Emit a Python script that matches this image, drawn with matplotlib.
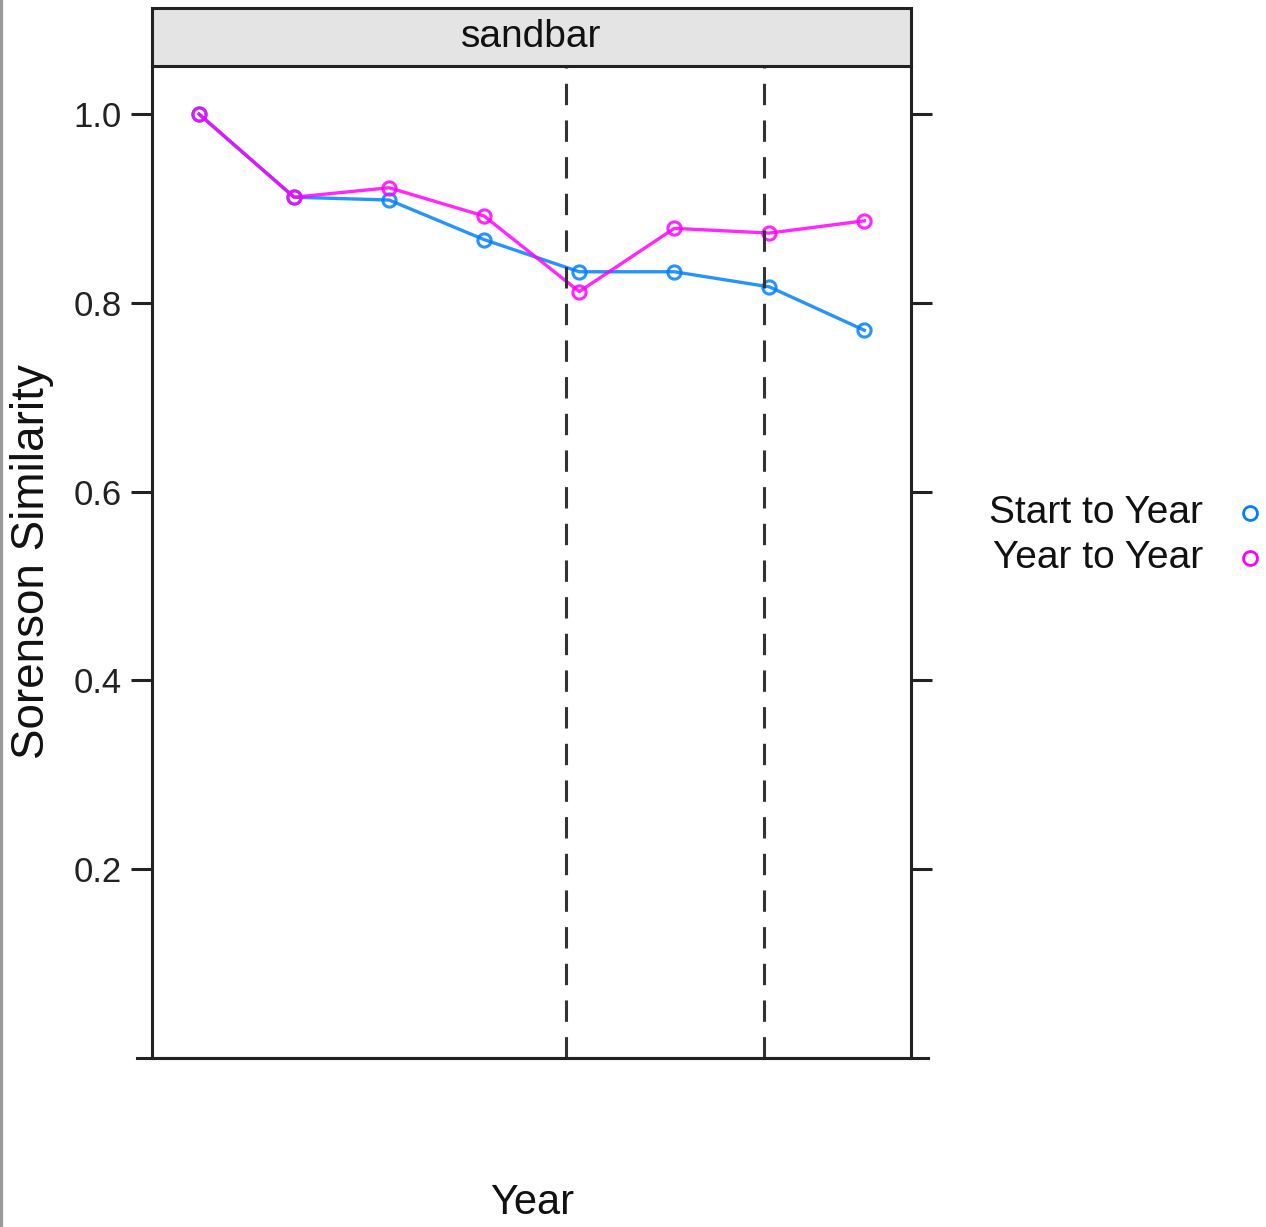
import numpy as np
import matplotlib.pyplot as plt
from matplotlib.lines import Line2D

# Données
periode = [1, 2, 3, 4, 5, 6, 7, 8]
debut_annee = [1.0, 0.912, 0.909, 0.867, 0.833, 0.833, 0.817, 0.771]
annee_annee = [1.0, 0.912, 0.922, 0.892, 0.812, 0.879, 0.874, 0.887]
ruptures = [4.86, 6.94]
yticks = [0.2, 0.4, 0.6, 0.8, 1.0]
noms = ['Start to Year', 'Year to Year']
couleurs = ['#0080ff', '#ff00ff']

W, H = 1266, 1227
fig = plt.figure(figsize=(W / 100, H / 100), dpi=100)

police = ['Liberation Sans', 'DejaVu Sans']

x0, x1 = 152 / W, 911 / W
y0, y1 = 1 - 1058 / H, 1 - 66 / H
ax = fig.add_axes([x0, y0, x1 - x0, y1 - y0])

for serie, c in zip([debut_annee, annee_annee], couleurs):
    ax.plot(periode, serie, color=c, lw=2.4, alpha=0.85, marker='o', ms=9.5,
            mfc='none', mec=c, mew=2.2)

for xr in ruptures:
    ax.axvline(xr, color='#333333', lw=2.2, dashes=(7, 5))

ax.set_xlim(0.505, 8.49)
ax.set_ylim(0, 1.051)
ax.set_xticks([])
ax.set_yticks(yticks)
ax.set_yticklabels(['%.1f' % v for v in yticks], fontsize=25, family=police, color='#222222')
ax.tick_params(axis='y', which='both', direction='out', length=15, width=2.2,
               right=True, labelright=False, pad=7, color='#222222')
for s in ['left', 'right', 'bottom']:
    ax.spines[s].set_linewidth(2.2)
    ax.spines[s].set_color('#222222')
ax.spines['top'].set_visible(False)

# prolongement de la ligne du bas
ax.add_line(Line2D([(137 - 152) / 759, (928 - 152) / 759], [0, 0], transform=ax.transAxes,
                   color='#222222', lw=2.2, clip_on=False))

# bandeau
sy0 = 1 - 66 / H
sy1 = 1 - 8 / H
strip = fig.add_axes([x0, sy0, x1 - x0, sy1 - sy0])
strip.set_facecolor('#e4e4e4')
strip.set_xticks([])
strip.set_yticks([])
for s in strip.spines.values():
    s.set_linewidth(2.2)
    s.set_color('#222222')
strip.text(0.5, 0.5, 'sandbar', ha='center', va='center', fontsize=28, family=police,
           transform=strip.transAxes, color='#111111')

fig.text(532 / W, 1 - 1203 / H, 'Year', ha='center', va='center', fontsize=30, family=police,
         color='#111111')
fig.text(32 / W, 1 - 562 / H, 'Sorenson Similarity', ha='center', va='center', rotation=90,
         fontsize=33, family=police, color='#111111')

# légende
for i, (nom, c) in enumerate(zip(noms, couleurs)):
    yy = 1 - (513 + i * 45) / H
    fig.text(1203 / W, yy, nom, ha='right', va='center', fontsize=28, family=police,
             color='#111111')
    fig.add_artist(Line2D([1250 / W], [yy], marker='o', ms=10, mfc='none', mec=c, mew=2,
                          transform=fig.transFigure))

fig.add_artist(Line2D([0.001, 0.001], [0, 1], color='#999999', lw=3, transform=fig.transFigure))

fig.savefig('out.png', dpi=100)
